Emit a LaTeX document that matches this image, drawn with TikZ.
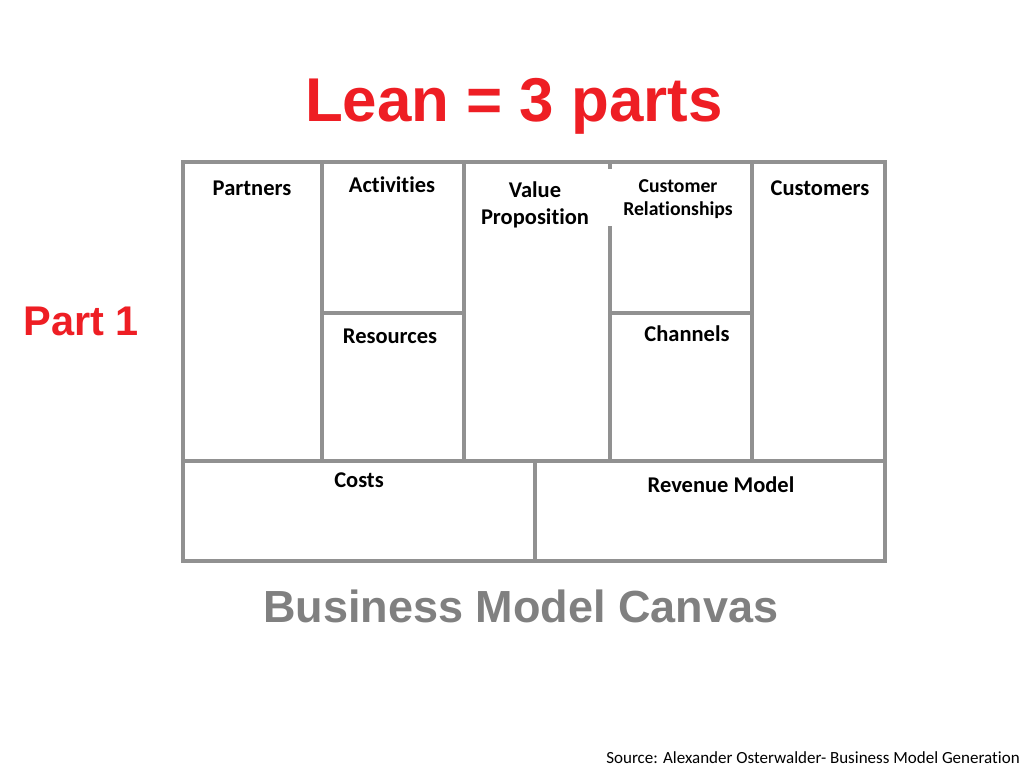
\documentclass[tikz,border=0pt]{standalone}
\usepackage{fontspec}
\setmainfont{Liberation Sans}
\newfontfamily\calfont[Ligatures=NoCommon]{Carlito}
\definecolor{leanred}{RGB}{238,30,36}
\definecolor{gridgray}{RGB}{145,145,145}
\definecolor{captiongray}{RGB}{128,128,128}
\tikzset{
  grid line/.style={draw=gridgray, line width=2.6pt, line cap=rect},
  field/.style={font=\calfont\bfseries\fontsize{16}{19}\selectfont, anchor=base, inner sep=0pt},
  small field/.style={font=\calfont\bfseries\fontsize{14}{17}\selectfont, anchor=base, inner sep=0pt}
}

\begin{document}
\begin{tikzpicture}[x=0.025cm, y=-0.025cm]
\useasboundingbox (0,0) rectangle (1024,768);

% canvas corners
\coordinate (NW) at (183,162);
\coordinate (SE) at (885,561);

% outer frame and the long split
\draw[grid line] (NW) rectangle (SE);
\draw[grid line] (183,461) -- (885,461);
\draw[grid line] (535,461) -- (535,561);

% columns
\draw[grid line] (322,162) -- (322,461);
\draw[grid line] (464,162) -- (464,461);
\draw[grid line] (610,162) -- (610,167);
\draw[grid line] (610,228) -- (610,461);
\draw[grid line] (752,162) -- (752,461);

% split boxes
\draw[grid line] (322,313) -- (464,313);
\draw[grid line] (610,313) -- (752,313);

% titles
\node[text=leanred, font=\bfseries\fontsize{44}{50}\selectfont, anchor=base] (title) at (514,122) {Lean = 3 parts};
\node[text=leanred, font=\bfseries\fontsize{29.5}{34}\selectfont, anchor=base] (part) at (81,335) {Part 1};
\node[text=captiongray, font=\bfseries\fontsize{32}{38}\selectfont, anchor=base] (caption) at (521,622) {Business Model Canvas};
\node[font=\calfont\fontsize{12.1}{14}\selectfont, anchor=base east, inner sep=0pt] (source) at (1020,763) {Source: Alexander Osterwalder- Business Model Generation};

% field labels
\node[field] (partners) at (252,195) {Partners};
\node[field] (activities) at (392,192) {Activities};
\node[field] (value) at (535,197) {Value};
\node[field] (proposition) at (535,224) {Proposition};
\node[small field] (customer) at (678,192) {Customer};
\node[small field] (relations) at (678,215) {Relationships};
\node[field] (customers) at (820,195) {Customers};
\node[field] (resources) at (390,343) {Resources};
\node[field] (channels) at (687,341) {Channels};
\node[field] (costs) at (359,487) {Costs};
\node[field] (revenue) at (721,492) {Revenue Model};
\end{tikzpicture}
\end{document}
